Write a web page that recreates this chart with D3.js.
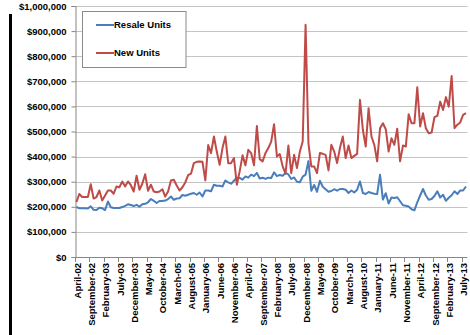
<!DOCTYPE html>
<html>
<head>
<meta charset="utf-8">
<script src="https://cdn.jsdelivr.net/npm/d3@7"></script>
<style>
  html, body { margin: 0; padding: 0; background: #fff; }
  svg { display: block; font-family: "Liberation Sans", Arial, Helvetica, sans-serif; }
</style>
</head>
<body>
<svg id="chart" width="470" height="335"></svg>
<script>
// Monthly median prices, April 2002 onward
const resaleUnits = [
  200000, 194000, 194000, 194000, 193000, 202000, 188000, 187000, 196000, 194000,
  187000, 221000, 198000, 195000, 195000, 195000, 199000, 204000, 210000, 207000,
  203000, 208000, 200000, 210000, 212000, 218000, 231000, 224000, 215000, 223000,
  223000, 225000, 231000, 241000, 228000, 233000, 234000, 247000, 244000, 248000,
  252000, 255000, 248000, 257000, 241000, 265000, 265000, 262000, 288000, 284000,
  284000, 281000, 305000, 297000, 292000, 304000, 316000, 315000, 308000, 321000,
  316000, 328000, 322000, 335000, 313000, 316000, 311000, 316000, 315000, 337000,
  322000, 327000, 324000, 335000, 329000, 311000, 317000, 300000, 298000, 320000,
  328000, 382000, 264000, 287000, 260000, 304000, 280000, 270000, 260000, 263000,
  270000, 264000, 271000, 271000, 268000, 255000, 265000, 257000, 268000, 301000,
  255000, 251000, 259000, 255000, 252000, 251000, 328000, 229000, 254000, 213000,
  237000, 235000, 238000, 222000, 206000, 204000, 201000, 190000, 186000, 218000,
  245000, 271000, 245000, 228000, 231000, 243000, 262000, 237000, 248000, 224000,
  236000, 246000, 262000, 251000, 265000, 265000, 281000
];

const newUnits = [
  219000, 251000, 239000, 239000, 239000, 290000, 233000, 239000, 265000, 225000,
  245000, 265000, 265000, 252000, 281000, 278000, 301000, 281000, 301000, 286000,
  261000, 324000, 268000, 292000, 330000, 264000, 288000, 261000, 258000, 261000,
  270000, 241000, 261000, 305000, 308000, 285000, 265000, 278000, 297000, 326000,
  332000, 374000, 379000, 380000, 379000, 305000, 446000, 414000, 480000, 420000,
  367000, 434000, 480000, 374000, 374000, 394000, 288000, 341000, 405000, 365000,
  427000, 414000, 365000, 522000, 390000, 381000, 414000, 434000, 460000, 529000,
  400000, 410000, 361000, 332000, 444000, 334000, 407000, 354000, 420000, 460000,
  925000, 454000, 361000, 361000, 334000, 414000, 411000, 407000, 345000, 447000,
  420000, 374000, 434000, 480000, 394000, 444000, 394000, 403000, 411000, 626000,
  507000, 440000, 593000, 480000, 447000, 381000, 513000, 533000, 509000, 420000,
  473000, 447000, 511000, 381000, 444000, 440000, 569000, 533000, 533000, 676000,
  520000, 573000, 513000, 493000, 496000, 557000, 562000, 619000, 586000, 637000,
  599000, 721000, 513000, 527000, 536000, 566000, 573000
];

// One label every fifth month
const tickLabels = [
  "April-02", "September-02", "February-03", "July-03", "December-03", "May-04",
  "October-04", "March-05", "August-05", "January-06", "June-06", "November-06",
  "April-07", "September-07", "February-08", "July-08", "December-08", "May-09",
  "October-09", "March-10", "August-10", "January-11", "June-11", "November-11",
  "April-12", "September-12", "February-13", "July-13"
];
const labelStep = 5;

const yTicks = [0, 100000, 200000, 300000, 400000, 500000, 600000, 700000, 800000, 900000, 1000000];

const seriesNames = ["Resale Units", "New Units"];
const seriesColors = ["#4a7ebb", "#be4b48"];

const svg = d3.select("#chart");

// frame bar on the left edge
svg.append("rect")
  .attr("x", 9).attr("y", 14).attr("width", 3).attr("height", 321)
  .attr("fill", "#000");

const plotLeft = 75, plotRight = 467.4, plotTop = 6, plotBottom = 257;

const x = d3.scaleBand()
  .domain(d3.range(resaleUnits.length))
  .range([plotLeft, plotRight]);
const y = d3.scaleLinear().domain([0, 1000000]).range([plotBottom, plotTop]);
const cx = i => x(i) + x.bandwidth() / 2;

// horizontal gridlines
svg.append("g")
  .selectAll("line")
  .data(yTicks.filter(d => d > 0))
  .join("line")
  .attr("x1", plotLeft).attr("x2", plotRight)
  .attr("y1", d => Math.round(y(d)) + 0.5).attr("y2", d => Math.round(y(d)) + 0.5)
  .attr("stroke", "#c4c4c4").attr("stroke-width", 1);

// y axis
const yAxis = svg.append("g")
  .attr("transform", `translate(${plotLeft + 0.5},0)`)
  .call(d3.axisLeft(y)
    .tickValues(yTicks)
    .tickSize(4)
    .tickPadding(5)
    .tickFormat(d => "$" + d3.format(",")(d)));
yAxis.select(".domain").attr("stroke", "#868686");
yAxis.selectAll(".tick line").attr("stroke", "#868686");
yAxis.selectAll(".tick text")
  .attr("fill", "#000")
  .style("font-size", "9.5px")
  .style("font-weight", "bold")
  .style("font-family", "'Liberation Sans', Arial, sans-serif");

// x axis baseline
svg.append("line")
  .attr("x1", plotLeft).attr("x2", plotRight)
  .attr("y1", plotBottom + 0.5).attr("y2", plotBottom + 0.5)
  .attr("stroke", "#868686");

const labelIdx = tickLabels.map((_, k) => k * labelStep);

// tick marks on category boundaries
svg.append("g")
  .selectAll("line")
  .data(labelIdx)
  .join("line")
  .attr("x1", i => Math.round(x(i)) + 0.5).attr("x2", i => Math.round(x(i)) + 0.5)
  .attr("y1", plotBottom).attr("y2", plotBottom + 5)
  .attr("stroke", "#868686");

// rotated month labels
svg.append("g")
  .selectAll("text")
  .data(labelIdx)
  .join("text")
  .attr("transform", i => `translate(${cx(i) + 0.8},${plotBottom + 6}) rotate(-90)`)
  .attr("text-anchor", "end")
  .attr("dy", "0.35em")
  .attr("fill", "#000")
  .style("font-size", "9.5px")
  .style("font-weight", "bold")
  .text((i, k) => tickLabels[k]);

// series lines
const line = d3.line()
  .x((d, i) => cx(i))
  .y(d => y(d));

[resaleUnits, newUnits].forEach((vals, s) => {
  svg.append("path")
    .datum(vals)
    .attr("d", line)
    .attr("fill", "none")
    .attr("stroke", seriesColors[s])
    .attr("stroke-width", 2)
    .attr("stroke-linejoin", "round");
});

// legend
const legend = svg.append("g");
legend.append("rect")
  .attr("x", 82.5).attr("y", 11.5).attr("width", 103.5).attr("height", 56)
  .attr("fill", "#fff").attr("stroke", "#8a8a8a");
const legendY = [25, 53];
seriesNames.forEach((name, s) => {
  legend.append("line")
    .attr("x1", 96).attr("x2", 114)
    .attr("y1", legendY[s]).attr("y2", legendY[s])
    .attr("stroke", seriesColors[s]).attr("stroke-width", 2);
  legend.append("text")
    .attr("x", 114).attr("y", legendY[s]).attr("dy", "0.35em")
    .attr("fill", "#000")
    .style("font-size", "9.5px")
    .style("font-weight", "bold")
    .text(name);
});
</script>
</body>
</html>
